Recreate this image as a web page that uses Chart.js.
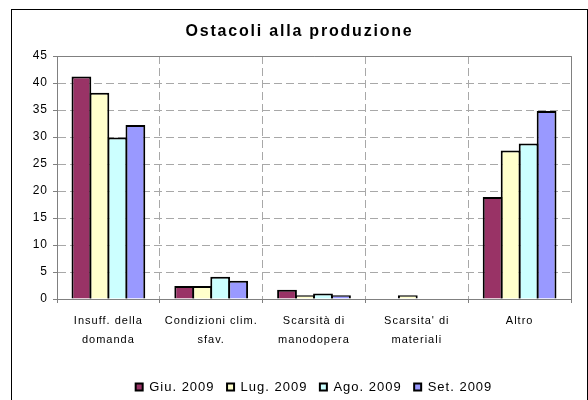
<!DOCTYPE html>
<html>
<head>
<meta charset="utf-8">
<script src="https://cdn.jsdelivr.net/npm/chart.js@4.4.1/dist/chart.umd.min.js"></script>
<style>
  body   { margin: 0; background: #fff; overflow: hidden; }
  #wrap  { position: relative; width: 588px; height: 400px; overflow: hidden; }
  #frame { position: absolute; left: 11px; top: 9px; width: 575px; height: 400px; border: 1px solid #000; pointer-events: none; }
  #title { position: absolute; left: 11px; width: 577px; top: 22px; line-height: 18px; text-align: center;
           font: bold 16px 'Liberation Sans', Arial, sans-serif; letter-spacing: 1.8px; color: #000; }
</style>
</head>
<body>
<div id="wrap">
  <canvas id="main-chart" width="588" height="400"></canvas>
  <div id="frame"></div>
  <div id="title">Ostacoli alla produzione</div>
</div>
<script>
const categories = [
  ['Insuff. della', 'domanda'],
  ['Condizioni clim.', 'sfav.'],
  ['Scarsità di', 'manodopera'],
  ["Scarsita' di", 'materiali'],
  'Altro',
];

const seriesNames = ['Giu. 2009', 'Lug. 2009', 'Ago. 2009', 'Set. 2009'];
const giu = [41.2, 2.4, 1.7, 0,   18.9];
const lug = [38.2, 2.4, 0.7, 0.7, 27.5];
const ago = [29.9, 4.1, 1.0, 0,   28.8];
const set = [32.2, 3.4, 0.7, 0,   34.8];
const yTicks = [0, 5, 10, 15, 20, 25, 30, 35, 40, 45];

const colors = ['#993366', '#FFFFCC', '#CCFFFF', '#9999FF'];

Chart.defaults.font.family = "'Liberation Sans', Arial, sans-serif";
Chart.defaults.color = '#000';

// the old spreadsheet export spaces its letters out a little
const letterSpacing = {
  id: 'letterSpacing',
  beforeLayout(chart) { chart.ctx.letterSpacing = '1px'; },
  beforeDraw(chart)   { chart.ctx.letterSpacing = '1px'; },
};

// solid grey top/right edge of the plot area
const plotFrame = {
  id: 'plotFrame',
  beforeDatasetsDraw(chart) {
    const { ctx, chartArea: a } = chart;
    ctx.save();
    ctx.strokeStyle = '#808080';
    ctx.lineWidth = 1;
    ctx.beginPath();
    ctx.moveTo(a.left, a.top + 0.5);
    ctx.lineTo(a.right + 0.5, a.top + 0.5);
    ctx.lineTo(a.right + 0.5, a.bottom);
    ctx.stroke();
    ctx.restore();
  }
};

const datasets = [giu, lug, ago, set].map((data, i) => ({
  label: seriesNames[i],
  data,
  backgroundColor: colors[i],
  borderColor: '#000',
  borderWidth: 2,
  categoryPercentage: 0.70,
  barPercentage: 1.1,
}));

new Chart(document.getElementById('main-chart'), {
  type: 'bar',
  data: { labels: categories, datasets },
  plugins: [letterSpacing, plotFrame],
  options: {
    responsive: false,
    animation: false,
    layout: { padding: { top: 56, left: 25, right: 17, bottom: 0 } },
    plugins: {
      title:   { display: false },
      tooltip: { enabled: false },
      legend: {
        position: 'bottom',
        fullSize: false,
        maxHeight: 32,
        labels: { boxWidth: 7, boxHeight: 7, padding: 12.5, font: { size: 13 } },
      },
    },
    scales: {
      x: {
        grid:   { color: '#a8a8a8', tickLength: 4, tickColor: '#808080', offset: true },
        border: { color: '#808080', width: 1, dash: [8, 4] },
        ticks:  { padding: 8, maxRotation: 0, autoSkip: false, font: { size: 11, lineHeight: '19px' } },
        afterFit: s => { s.height = 69; },
      },
      y: {
        min: 0,
        max: 45,
        afterBuildTicks: s => { s.ticks = yTicks.map(v => ({ value: v })); },
        grid:   { color: '#a8a8a8', tickLength: 4, tickColor: '#808080' },
        border: { color: '#808080', width: 1, dash: [8, 4] },
        ticks:  { padding: 5, font: { size: 12 } },
        afterFit: s => { s.width = 32; },
      },
    },
  },
});
</script>
</body>
</html>
